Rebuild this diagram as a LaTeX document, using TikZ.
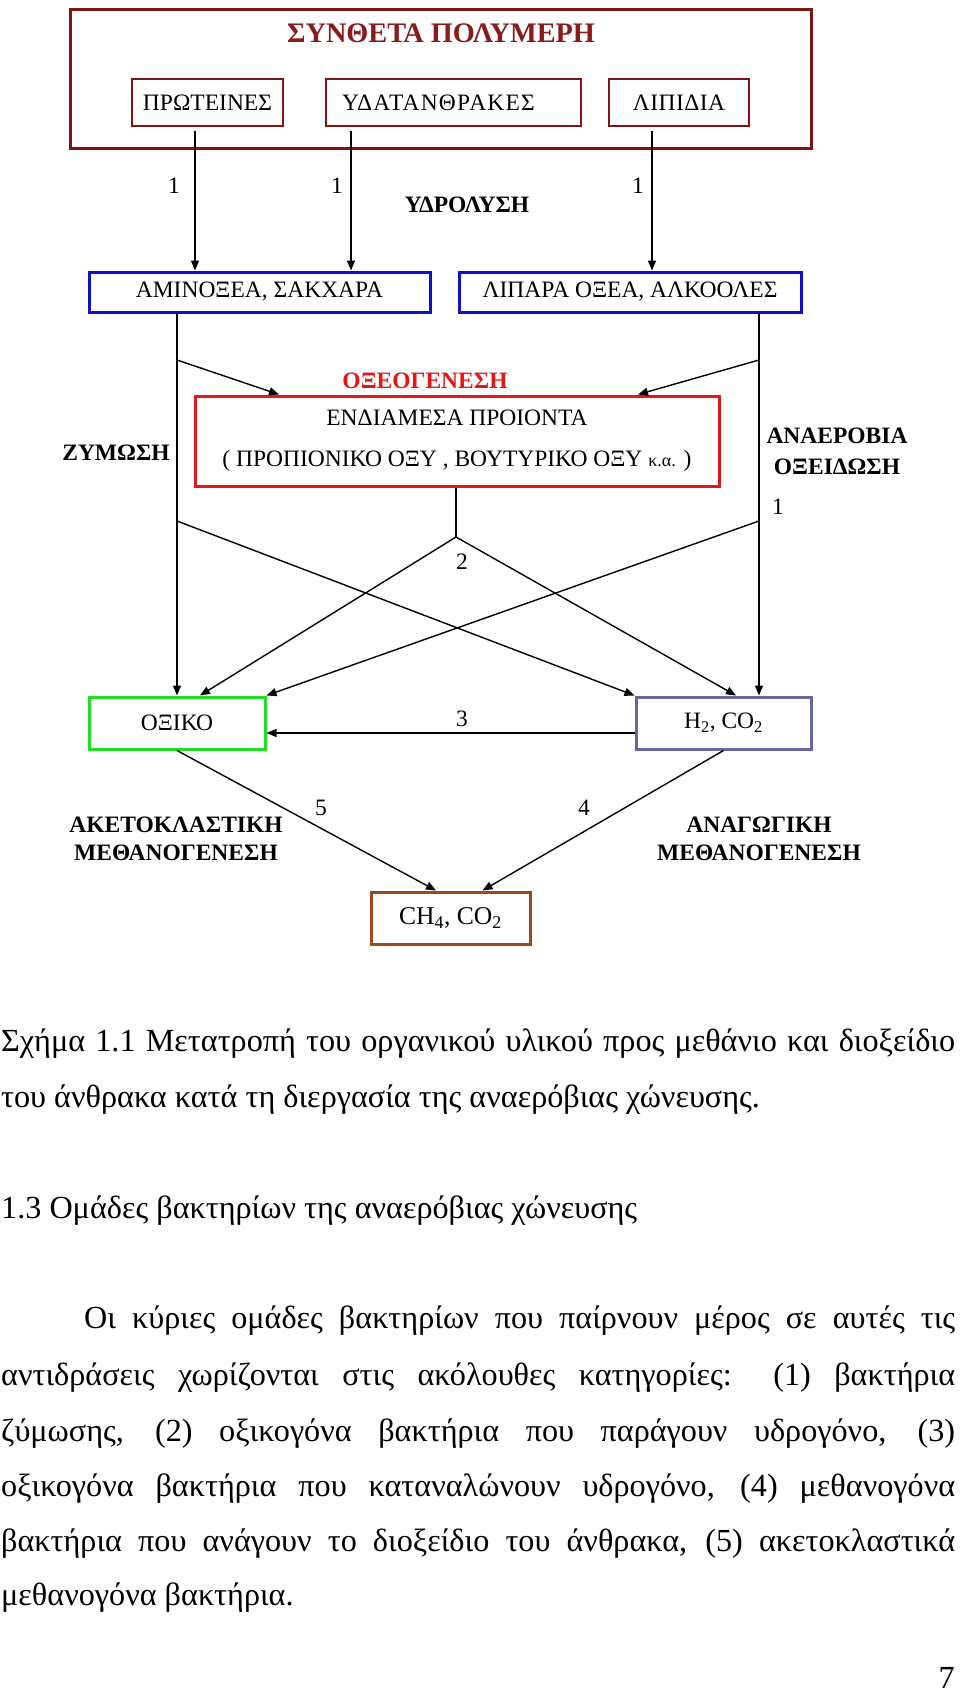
\documentclass[tikz,border=0pt]{standalone}
\usepackage{fontspec}
\setmainfont{Liberation Serif}
\usetikzlibrary{arrows.meta}
\definecolor{darkred}{HTML}{7E1414}
\definecolor{titlered}{HTML}{8B1A1A}
\definecolor{boxblue}{HTML}{1010C8}
\definecolor{boxred}{HTML}{E01818}
\definecolor{boxgreen}{HTML}{22DD22}
\definecolor{boxslate}{HTML}{6868A0}
\definecolor{boxbrown}{HTML}{9A4A1E}
\newcommand\diagfont{\fontsize{23.5}{27}\selectfont}
\newcommand\bodyfont{\fontsize{32.2}{36}\selectfont}
\begin{document}
\begin{tikzpicture}[x=1pt,y=-1pt,
  every node/.style={inner sep=0pt, font=\diagfont},
  abox/.style={draw, rectangle, line width=3pt},
  thinbox/.style={draw=darkred, rectangle, line width=1.5pt},
  lbl/.style={font=\diagfont\bfseries, align=center},
  arr/.style={line width=1.4pt, -{Triangle[width=8pt,length=10pt]}},
  ln/.style={line width=1.4pt}]
\useasboundingbox (0,0) rectangle (960,1695);
% top block
\node[abox, draw=darkred, minimum width=741pt, minimum height=139pt] (outer) at (440.5,78.5) {};
\node[font=\fontsize{28.3}{32}\selectfont\bfseries, text=titlered] (title) at (441,33) {ΣΥΝΘΕΤΑ ΠΟΛΥΜΕΡΗ};
\node[thinbox, minimum width=151pt, minimum height=47pt] (prot) at (207.5,102.5) {ΠΡΩΤΕΙΝΕΣ};
\node[thinbox, minimum width=255pt, minimum height=47pt, text width=223pt, align=left] (ydat) at (453.5,102.5) {\addfontfeature{LetterSpace=5}ΥΔΑΤΑΝΘΡΑΚΕΣ};
\node[thinbox, minimum width=140pt, minimum height=47pt] (lip) at (679,102.5) {\addfontfeature{LetterSpace=2}ΛΙΠΙΔΙΑ};
% blue boxes
\node[abox, draw=boxblue, minimum width=341pt, minimum height=40pt] (amino) at (259.5,292) {ΑΜΙΝΟΞΕΑ, ΣΑΚΧΑΡΑ};
\node[abox, draw=boxblue, minimum width=342pt, minimum height=40pt] (lipara) at (630,292) {ΛΙΠΑΡΑ ΟΞΕΑ, ΑΛΚΟΟΛΕΣ};
\coordinate (s1) at (195,131);
\coordinate (s2) at (351,131);
\coordinate (s3) at (652,131);
\draw[arr] (s1) -- (s1 |- amino.north);
\draw[arr] (s2) -- (s2 |- amino.north);
\draw[arr] (s3) -- (s3 |- lipara.north);
\node (n1a) at (174,186) {1};
\node (n1b) at (337,186) {1};
\node (n1c) at (638,186) {1};
\node[lbl] (hydro) at (467,205) {ΥΔΡΟΛΥΣΗ};
% intermediate
\node[abox, draw=boxred, minimum width=524pt, minimum height=90pt, align=center, font=\fontsize{23.5}{41}\selectfont] (inter) at (457,441) {ΕΝΔΙΑΜΕΣΑ ΠΡΟΙΟΝΤΑ\\( ΠΡΟΠΙΟΝΙΚΟ ΟΞΥ , ΒΟΥΤΥΡΙΚΟ ΟΞΥ {\fontsize{18}{20}\selectfont κ.α.} )};
\node[lbl, text=boxred] (oxeo) at (425,381) {ΟΞΕΟΓΕΝΕΣΗ};
\node[lbl] (zym) at (116,453) {ΖΥΜΩΣΗ};
\node[lbl, font=\fontsize{23.5}{31}\selectfont\bfseries] (anaer) at (837,451) {ΑΝΑΕΡΟΒΙΑ\\ΟΞΕΙΔΩΣΗ};
\node (n1d) at (778,507) {1};
% lower boxes
\node[abox, draw=boxgreen, minimum width=176pt, minimum height=52pt] (oxiko) at (177,723) {ΟΞΙΚΟ};
\node[abox, draw=boxslate, minimum width=175pt, minimum height=52pt] (h2) at (723.5,723) {H\textsubscript{2}, CO\textsubscript{2}};
\node[abox, draw=boxbrown, minimum width=159pt, minimum height=52pt, font=\fontsize{25.6}{28}\selectfont] (ch4) at (450.5,918) {CH\textsubscript{4}, CO\textsubscript{2}};
% junctions
\coordinate (xL) at (177,0);
\coordinate (xR) at (759,0);
\coordinate (jL1) at (177,360);
\coordinate (jR1) at (759,360);
\coordinate (jL2) at (177,521);
\coordinate (jR2) at (759,521);
\coordinate (jM) at (456,537);
\coordinate (tL) at (279,0);
\coordinate (tR) at (638,0);
\coordinate (tO) at (200,0);
\coordinate (tH) at (736,0);
\draw[arr] (amino.south -| xL) -- (xL |- oxiko.north);
\draw[arr] (lipara.south -| xR) -- (xR |- h2.north);
\draw[arr] (jL1) -- (tL |- inter.north);
\draw[arr] (jR1) -- (tR |- inter.north);
\draw[ln] (inter.south -| jM) -- (jM);
\draw[arr] (jM) -- (tO |- oxiko.north);
\draw[arr] (jM) -- (tH |- h2.north);
\draw[arr] (jL2) -- (h2.north west);
\draw[arr] (jR2) -- (oxiko.north east);
\node (n2) at (462,562) {2};
\draw[arr] ([yshift=-10pt]h2.west) -- ([yshift=-10pt]oxiko.east);
\node (n3) at (462,719) {3};
\draw[arr] (oxiko.south) -- ([xshift=-14.5pt]ch4.north);
\draw[arr] (h2.south) -- ([xshift=32pt]ch4.north);
\node (n5) at (321,808) {5};
\node (n4) at (584,808) {4};
\node[lbl, font=\fontsize{23.5}{28}\selectfont\bfseries] (aceto) at (176,839) {ΑΚΕΤΟΚΛΑΣΤΙΚΗ\\ΜΕΘΑΝΟΓΕΝΕΣΗ};
\node[lbl, font=\fontsize{23.5}{28}\selectfont\bfseries] (anag) at (759,839) {ΑΝΑΓΩΓΙΚΗ\\ΜΕΘΑΝΟΓΕΝΕΣΗ};
% text below
\begin{scope}[every node/.style={inner sep=0pt, font=\bodyfont, anchor=base west}]
\node (cap1) at (1,1051) {\makebox[954pt][s]{Σχήμα 1.1 Μετατροπή του οργανικού υλικού προς μεθάνιο και διοξείδιο}};
\node (cap2) at (1,1107) {του άνθρακα κατά τη διεργασία της αναερόβιας χώνευσης.};
\node (head) at (1,1218) {1.3 Ομάδες βακτηρίων της αναερόβιας χώνευσης};
\node (p1) at (84,1328) {\makebox[871pt][s]{Οι κύριες ομάδες βακτηρίων που παίρνουν μέρος σε αυτές τις}};
\node (p2) at (1,1385) {\makebox[954pt][s]{αντιδράσεις χωρίζονται στις ακόλουθες κατηγορίες: (1) βακτήρια}};
\node (p3) at (1,1441) {\makebox[954pt][s]{ζύμωσης, (2) οξικογόνα βακτήρια που παράγουν υδρογόνο, (3)}};
\node (p4) at (1,1496) {\makebox[954pt][s]{οξικογόνα βακτήρια που καταναλώνουν υδρογόνο, (4) μεθανογόνα}};
\node (p5) at (1,1551) {\makebox[954pt][s]{βακτήρια που ανάγουν το διοξείδιο του άνθρακα, (5) ακετοκλαστικά}};
\node (p6) at (1,1605) {μεθανογόνα βακτήρια.};
\node[anchor=base east] (pg) at (955,1688) {7};
\end{scope}
\end{tikzpicture}
\end{document}
